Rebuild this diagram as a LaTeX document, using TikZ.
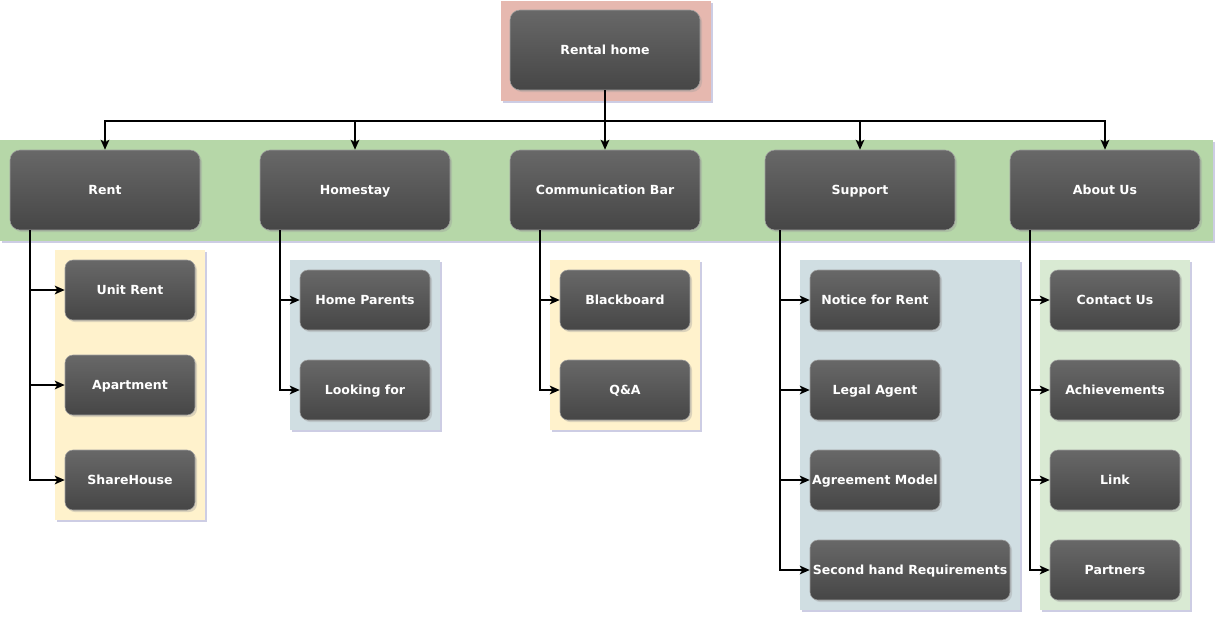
\documentclass[tikz,border=0pt]{standalone}
\usepackage{fontspec}
\setmainfont{DejaVu Sans}
\usepackage{tikz}
\usetikzlibrary{arrows.meta}
\usetikzlibrary{shadows}

\definecolor{pinkbg}{HTML}{E6B8AF}
\definecolor{greenbg}{HTML}{B6D7A8}
\definecolor{yellowbg}{HTML}{FFF2CC}
\definecolor{bluebg}{HTML}{D0DEE2}
\definecolor{mintbg}{HTML}{D9EAD3}
\definecolor{boxtop}{HTML}{686868}
\definecolor{boxbot}{HTML}{464646}

\begin{document}
\begin{tikzpicture}[x=0.75pt,y=-0.75pt,
    box/.style={draw=gray!75,top color=boxtop,bottom color=boxbot,text=white,inner sep=0pt,
                font=\bfseries\fontsize{9.4}{11}\selectfont,text height=1.5ex,text depth=0.3ex,
                drop shadow={shadow xshift=1.5pt,shadow yshift=-1.5pt,fill=black!40,opacity=0.35}},
    bigbox/.style={box,rounded corners=7.5pt,minimum width=142.5pt,minimum height=60pt},
    smallbox/.style={box,rounded corners=6pt,minimum width=97.5pt,minimum height=45pt},
    panel/.style={drop shadow={shadow xshift=1.5pt,shadow yshift=-1.5pt,fill=blue!30!gray,opacity=0.3}},
    arr/.style={-{Stealth[length=7.5pt,width=6.5pt,inset=2pt]},line width=1.3pt,black}]

    \useasboundingbox (0,0) rectangle (1217,618);

    \fill[panel,pinkbg]   (501,1)   rectangle (711,101);
    \fill[panel,greenbg]  (0,140)   rectangle (1213,241);
    \fill[panel,yellowbg] (55,250)  rectangle (205,520);
    \fill[panel,bluebg]   (290,260) rectangle (440,430);
    \fill[panel,yellowbg] (550,260) rectangle (700,430);
    \fill[panel,bluebg]   (800,260) rectangle (1020,610);
    \fill[panel,mintbg]   (1040,260) rectangle (1190,610);

    \node[bigbox]   (root)         at (605, 50)   {Rental home};

    \node[bigbox]   (rent)         at (105, 190)  {Rent};
    \node[bigbox]   (homestay)     at (355, 190)  {Homestay};
    \node[bigbox]   (commbar)      at (605, 190)  {Communication Bar};
    \node[bigbox]   (support)      at (860, 190)  {Support};
    \node[bigbox]   (aboutus)      at (1105, 190) {About Us};

    \node[smallbox] (unitrent)     at (130, 290)  {Unit Rent};
    \node[smallbox] (apartment)    at (130, 385)  {Apartment};
    \node[smallbox] (sharehouse)   at (130, 480)  {ShareHouse};

    \node[smallbox] (homeparents)  at (365, 300)  {Home Parents};
    \node[smallbox] (lookingfor)   at (365, 390)  {Looking for};

    \node[smallbox] (blackboard)   at (625, 300)  {Blackboard};
    \node[smallbox] (qa)           at (625, 390)  {Q\&A};

    \node[smallbox] (notice)       at (875, 300)  {Notice for Rent};
    \node[smallbox] (legalagent)   at (875, 390)  {Legal Agent};
    \node[smallbox] (agreement)    at (875, 480)  {Agreement Model};
    \node[smallbox,minimum width=150pt] (secondhand) at (910, 570) {Second hand Requirements};

    \node[smallbox] (contactus)    at (1115, 300) {Contact Us};
    \node[smallbox] (achievements) at (1115, 390) {Achievements};
    \node[smallbox] (link)         at (1115, 480) {Link};
    \node[smallbox] (partners)     at (1115, 570) {Partners};


    \draw[arr] (root.south) -- ++(0,31) -| (rent.north);
    \draw[arr] (root.south) -- ++(0,31) -| (homestay.north);
    \draw[arr] (root.south) -- (commbar.north);
    \draw[arr] (root.south) -- ++(0,31) -| (support.north);
    \draw[arr] (root.south) -- ++(0,31) -| (aboutus.north);

    \draw[arr] ([xshift=15pt]rent.south west) |- (unitrent.west);
    \draw[arr] ([xshift=15pt]rent.south west) |- (apartment.west);
    \draw[arr] ([xshift=15pt]rent.south west) |- (sharehouse.west);

    \draw[arr] ([xshift=15pt]homestay.south west) |- (homeparents.west);
    \draw[arr] ([xshift=15pt]homestay.south west) |- (lookingfor.west);

    \draw[arr] ([xshift=22.5pt]commbar.south west) |- (blackboard.west);
    \draw[arr] ([xshift=22.5pt]commbar.south west) |- (qa.west);

    \draw[arr] ([xshift=11.25pt]support.south west) |- (notice.west);
    \draw[arr] ([xshift=11.25pt]support.south west) |- (legalagent.west);
    \draw[arr] ([xshift=11.25pt]support.south west) |- (agreement.west);
    \draw[arr] ([xshift=11.25pt]support.south west) |- (secondhand.west);

    \draw[arr] ([xshift=15pt]aboutus.south west) |- (contactus.west);
    \draw[arr] ([xshift=15pt]aboutus.south west) |- (achievements.west);
    \draw[arr] ([xshift=15pt]aboutus.south west) |- (link.west);
    \draw[arr] ([xshift=15pt]aboutus.south west) |- (partners.west);
  \end{tikzpicture}
\end{document}
